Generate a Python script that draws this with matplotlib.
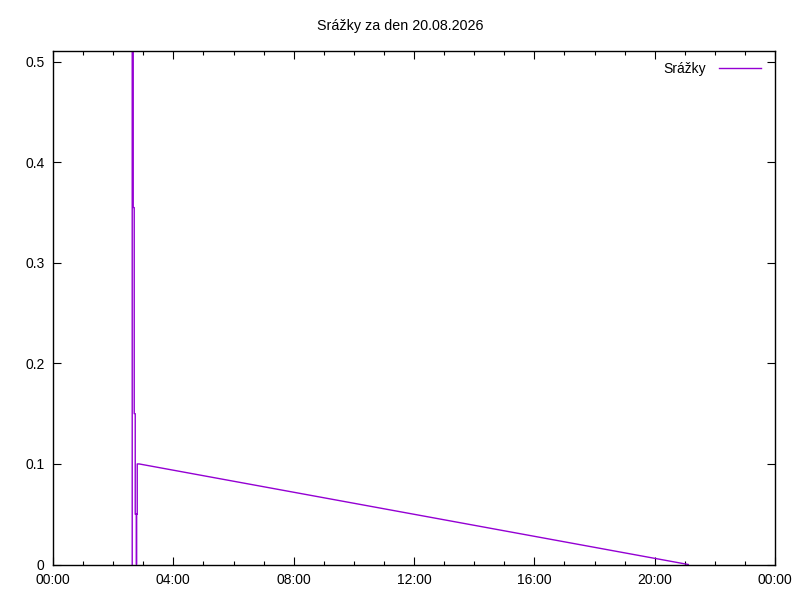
import matplotlib
matplotlib.use("Agg")
import matplotlib.pyplot as plt
import matplotlib.dates as mdates
import numpy as np
from datetime import datetime, timedelta

# data (minutes after midnight, rain value)
minutes = [158, 158, 160, 160, 162, 162, 164, 164, 166.5, 166.5, 166.5, 168, 168, 172, 1267]
values = [0.0, 0.7, 0.7, 0.355, 0.355, 0.15, 0.15, 0.05, 0.05, 0.0, 0.05, 0.05, 0.1, 0.1, 0.0]
day = datetime(2026, 8, 20)
times = [day + timedelta(minutes=m) for m in minutes]

title = "Srážky za den 20.08.2026"
series_name = "Srážky"
yticks = [0, 0.1, 0.2, 0.3, 0.4, 0.5]
ytick_labels = ["0", "0.1", "0.2", "0.3", "0.4", "0.5"]

plt.rcParams['font.family'] = ['Liberation Sans', 'DejaVu Sans']
fig = plt.figure(figsize=(8, 6), dpi=100)
ax = fig.add_axes([53/800, 1 - 564.5/600, (775-53)/800, (564.5-50.7)/600])

ax.plot(times, values, color='#9400d3', lw=1, label=series_name)

ax.set_xlim(day, day + timedelta(days=1))
ax.set_ylim(0, 0.511)
ax.xaxis.set_major_locator(mdates.HourLocator(byhour=range(0, 24, 4)))
ax.xaxis.set_minor_locator(mdates.HourLocator())
ax.xaxis.set_major_formatter(mdates.DateFormatter('%H:%M'))
ax.set_yticks(yticks)
ax.set_yticklabels(ytick_labels)

ax.tick_params(which='both', direction='in', top=True, right=True, labelsize=10, pad=6)
ax.tick_params(which='major', length=6, width=0.8)
ax.tick_params(which='minor', length=3, width=0.8)
for s in ax.spines.values():
    s.set_linewidth(1)

fig.text(0.5, 1 - 26/600, title, ha='center', va='center', fontsize=10.3)
ax.legend(loc='upper right', frameon=False, markerfirst=False, fontsize=10,
          handlelength=3, handletextpad=0.9, bbox_to_anchor=(1 - 2/722, 1 + 1.5/514))

fig.savefig('out.png', dpi=100)
